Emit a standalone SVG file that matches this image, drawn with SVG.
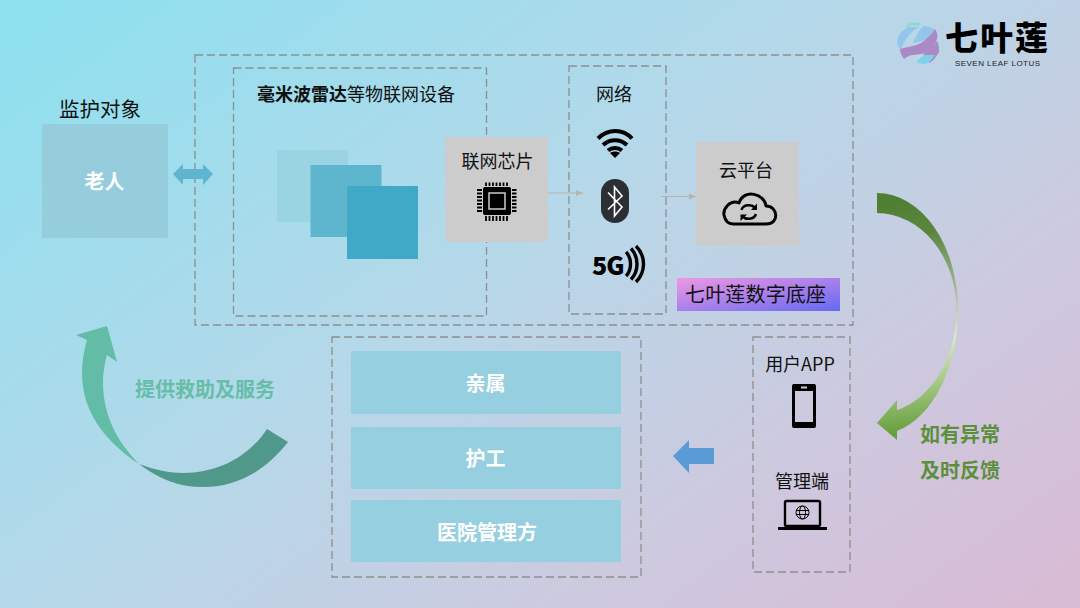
<svg xmlns="http://www.w3.org/2000/svg" width="1080" height="608" viewBox="0 0 1080 608">
<defs>
<linearGradient id="bg" gradientUnits="userSpaceOnUse" x1="230" y1="-120" x2="850" y2="728"><stop offset="0" stop-color="#8fe0ef"/><stop offset="0.45" stop-color="#b6d8e9"/><stop offset="0.72" stop-color="#cbcbe0"/><stop offset="1" stop-color="#d8bcd6"/></linearGradient>
<linearGradient id="badge" x1="0" y1="0" x2="1" y2="1"><stop offset="0" stop-color="#ee98e2"/><stop offset="1" stop-color="#6669f2"/></linearGradient>
<linearGradient id="green" gradientUnits="userSpaceOnUse" x1="905" y1="200" x2="925" y2="430"><stop offset="0" stop-color="#4f7f33"/><stop offset="0.15" stop-color="#5a8740"/><stop offset="0.42" stop-color="#a9bc9b"/><stop offset="0.6" stop-color="#dcecc8"/><stop offset="0.8" stop-color="#a4c885"/><stop offset="1" stop-color="#68a03f"/></linearGradient>
<marker id="thin" markerWidth="7" markerHeight="6" refX="7" refY="3" orient="auto" markerUnits="userSpaceOnUse"><path d="M0 0L7 3L0 6Z" fill="#b9b3ab"/></marker>
</defs>
<style>
text{font-family:"Noto Sans CJK SC","Noto Sans",sans-serif;fill:#111}
.d{fill:none;stroke:#8e8e8e;stroke-width:1.3;stroke-dasharray:8 4}
.l{font-size:18px}
.c{text-anchor:middle}
.w{fill:#fff;font-size:20px;font-weight:700;text-anchor:middle}
.bar{fill:#96cfdf}
.grey{fill:#cdcccc}
.i{fill:none;stroke:#000}
.g{fill:#5a8f3c;font-size:20px;font-weight:700}
</style>
<rect width="1080" height="608" fill="url(#bg)"/>

<g id="logo">
<path d="M905 27C908 23 915 21 920 23L919 26C914 25 909 26 905 27Z" fill="#8ad8cf"/>
<path d="M897 42C898 35 902 30 908 27C912 27 916 27 919 27C910 32 904 40 901 50C899 47 897 45 897 42Z" fill="#93c6ea"/>
<path d="M913 43C916 36 919 30 923 26C927 26 932 27 935 30C933 34 931 36 930 38C924 41 918 42 913 43Z" fill="#93c6ea"/>
<path d="M900 49C906 47 910 47 913 46C920 44 925 41 927 38C931 35 933 32 935 29C937 32 938 35 937 38C936 44 932 49 927 52C922 54 917 55 912 55C908 56 906 57 904 59C902 56 900 53 900 49Z" fill="#a98ac6"/>
<path d="M923 54C929 51 934 46 937 41C939 44 939 48 939 52C936 57 933 61 929 63C927 60 925 57 923 54Z" fill="#a98ac6"/>
<path d="M916 62C919 59 922 57 925 55C929 55 932 55 935 55C932 59 929 63 925 64C922 64 919 63 916 62Z" fill="#7ed2ea"/>
<text x="945" y="50" font-size="33" style="font-weight:900;fill:#000" textLength="103">七叶莲</text>
<text x="955" y="66" font-size="8" style="font-family:'Liberation Sans',sans-serif;fill:#222" textLength="85">SEVEN LEAF LOTUS</text>
</g>

<g id="platform-frame"><rect class="d" x="195" y="55" width="658" height="270"/></g>

<g id="elder">
<text x="100" y="117" font-size="20.5" class="c">监护对象</text>
<rect x="42" y="124" width="126" height="114" fill="#95cddd"/>
<text x="104.500" y="189" class="w">老人</text>
</g>

<g id="devices">
<rect class="d" x="233.500" y="68" width="253" height="248"/>
<text x="257" y="101" class="l"><tspan font-weight="700">毫米波雷达</tspan>等物联网设备</text>
<rect x="277" y="150" width="71" height="72" fill="#9ad4e2"/>
<rect x="310.500" y="165" width="71" height="72" fill="#5db6cd"/>
<rect x="347" y="186" width="71" height="73" fill="#3fa9c7"/>
</g>

<g id="chip">
<rect class="grey" x="445" y="137" width="103" height="105"/>
<text x="497.500" y="168" class="l c">联网芯片</text>
<rect x="483" y="187" width="28" height="28" rx="2" fill="#000"/>
<rect x="489" y="193" width="16" height="16" fill="none" stroke="#cdcccc" stroke-width="1.500"/>
<path d="M486 182.500V186M489.500 182.500V186M493 182.500V186M496.500 182.500V186M500 182.500V186M503.500 182.500V186M507 182.500V186M486 216V221M489.500 216V221M493 216V221M496.500 216V221M500 216V221M503.500 216V221M507 216V221M477 190H482M477 193.500H482M477 197H482M477 200.500H482M477 204H482M477 207.500H482M477 211H482M512 190H516.500M512 193.500H516.500M512 197H516.500M512 200.500H516.500M512 204H516.500M512 207.500H516.500M512 211H516.500" stroke="#000" stroke-width="1.800" fill="none"/>
</g>

<g id="network">
<rect class="d" x="569" y="66" width="97" height="248"/>
<text x="614" y="101" class="l c">网络</text>
<path d="M598 138.500C608 128.500 623 128.500 632 138.500M603 145C610 138.500 620 138.500 627 145M608 150.500C612 147 618 147 622 150.500" fill="none" stroke="#000" stroke-width="4"/>
<path d="M615 158L610 153C613 151 617 151 620 153Z" fill="#000"/>
<rect x="601" y="179" width="28" height="44" rx="14" fill="#2b2f33"/>
<path d="M608 192.500L622 207L614.500 216V187L622 196L608 209.500" fill="none" stroke="#fff" stroke-width="1.600"/>
<text x="592" y="275" font-size="25" style="font-weight:900;fill:#000;letter-spacing:-1px">5G</text>
<path d="M626 252C632 258 632 270 626 276M631 248.500C639 257 639 271 631 279.500M636 246C646 256 646 272 636 282" fill="none" stroke="#000" stroke-width="3.400"/>
</g>

<g id="cloud">
<rect class="grey" x="696" y="142" width="103" height="104"/>
<text x="746" y="177" class="l c">云平台</text>
<path d="M733 224H766C780 224 778 206 766 206C765 194 744 188 739 203C730 199 723 209 724 215C725 220 728 224 733 224Z" class="i" stroke-width="3" stroke-linejoin="round"/>
<path d="M741.500 210C743 204 752 204 755 208M756 214C754 220 745 220 742.500 216" class="i" stroke-width="2.400"/>
<path d="M757 203.500V210H751ZM740.500 221V214.500H747Z" fill="#000"/>
</g>

<g id="badge-node">
<rect x="677" y="278" width="163" height="33" fill="url(#badge)"/>
<text x="685" y="302" font-size="20" textLength="141">七叶莲数字底座</text>
</g>

<g id="family"><rect class="bar" x="351" y="351" width="270" height="63"/><text x="485.500" y="391" class="w">亲属</text></g>
<g id="carer"><rect class="bar" x="351" y="427" width="270" height="62"/><text x="485.500" y="466" class="w">护工</text></g>
<g id="hospital"><rect class="bar" x="351" y="500" width="270" height="62"/><text x="487" y="540" class="w">医院管理方</text></g>
<g id="recipients-frame"><rect class="d" x="332" y="337" width="309" height="240"/></g>

<g id="apps">
<rect class="d" x="753" y="337" width="97" height="235"/>
<text x="800" y="371" class="l c">用户APP</text>
<rect x="792" y="384" width="24" height="44" rx="2" fill="#000"/>
<rect x="795" y="391" width="18" height="31" fill="#cdc9df"/>
<rect x="801" y="386.500" width="6" height="2" fill="#cdc9df"/>
<text x="802" y="488" class="l c">管理端</text>
<rect x="785" y="501" width="35" height="25" rx="1.500" class="i" stroke-width="2.400"/>
<path d="M778 528.500H827" stroke="#000" stroke-width="2.800"/>
<circle cx="802.500" cy="512.500" r="6.500" class="i" stroke-width="1"/>
<ellipse cx="802.500" cy="512.500" rx="3" ry="6.500" class="i" stroke-width="1"/>
<path d="M796 510.500H809M796 514.500H809" class="i" stroke-width="1"/>
</g>

<g id="connectors">
<path d="M173 174L183 164V169H203V164L213 174L203 185V179H183V185Z" fill="#5eb5cd"/>
<path d="M548 193H583" stroke="#b9b3ab" marker-end="url(#thin)"/>
<path d="M661 196.500H696" stroke="#b9b3ab" marker-end="url(#thin)"/>
<path d="M714 448H689V440L673 456L689 473V464H714Z" fill="#5b9bd5"/>
<path d="M877 193A81 117 0 0 1 958 310A81 125 0 0 1 897 431V440L877 423L897 400V410A80 103 0 0 0 956.500 310A80 97 0 0 0 877 213Z" fill="url(#green)"/>
<path d="M139 464C115 440 103 412 103 383C103 372 105 362 107 355L117 362L107 326L76 335L87 340C84 350 82 362 82 373C82 410 103 440 139 464Z" fill="#63bca6"/>
<path d="M139 464C155 470 170 473 183 473C220 473 250 455 267 429L288 442C265 472 235 487 203 487C180 487 160 480 139 464Z" fill="#50998a"/>
</g>

<g id="labels">
<text x="135" y="397" font-size="20" style="font-weight:700;fill:#66bda8">提供救助及服务</text>
<text x="920" y="442" class="g">如有异常</text>
<text x="920" y="478" class="g">及时反馈</text>
</g>
</svg>
